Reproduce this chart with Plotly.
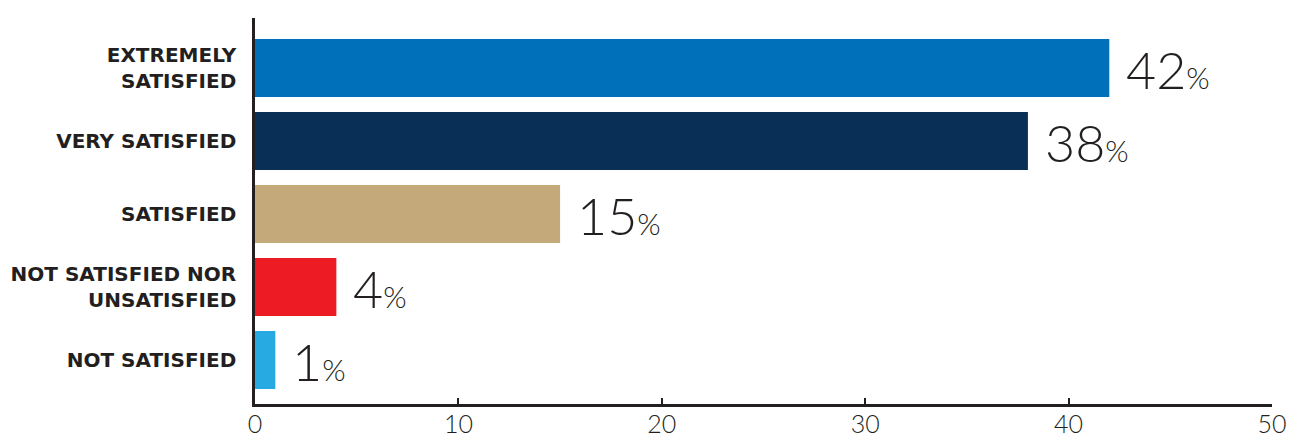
import plotly.graph_objects as go

categories = ["EXTREMELY<br>SATISFIED", "VERY SATISFIED", "SATISFIED",
              "NOT SATISFIED NOR<br>UNSATISFIED", "NOT SATISFIED"]
values = [42, 38, 15, 4, 1]
colors = ["#0070bb", "#0a2f57", "#c4aa7a", "#ed1c24", "#27aae1"]
x_ticks = [0, 10, 20, 30, 40, 50]

fig = go.Figure(go.Bar(
    x=values, y=categories, orientation="h",
    marker=dict(color=colors, line=dict(width=0)),
    hoverinfo="skip",
))

for c, v in zip(categories, values):
    fig.add_annotation(
        x=v, y=c, xref="x", yref="y",
        text=f"{v}<span style='font-size:30px'>%</span>",
        showarrow=False, xanchor="left", yanchor="middle",
        xshift=15, yshift=-1,
        font=dict(family="Lato", size=52, color="#231f20", weight=300),
    )

fig.update_layout(
    width=1290, height=437,
    margin=dict(l=255, r=18, t=18, b=33),
    plot_bgcolor="white", paper_bgcolor="white",
    bargap=0.205, showlegend=False,
    xaxis=dict(
        range=[0, 50], tickvals=x_ticks, showgrid=False, zeroline=False,
        showline=True, linecolor="#231f20", linewidth=2.5,
        ticks="inside", ticklen=6, tickwidth=2, tickcolor="#231f20",
        ticklabelstandoff=-4,
        tickfont=dict(family="Lato", size=25, color="#231f20", weight=300),
        automargin=False, fixedrange=True,
    ),
    yaxis=dict(
        categoryorder="array", categoryarray=categories,
        range=[4.603, -0.685], showgrid=False, zeroline=False,
        showline=True, linecolor="#231f20", linewidth=2.5,
        ticks="", ticklabelstandoff=12,
        tickfont=dict(family="DejaVu Sans", size=20, color="#231f20", weight=700),
        automargin=False, fixedrange=True,
    ),
)

fig.write_html("out.html")
